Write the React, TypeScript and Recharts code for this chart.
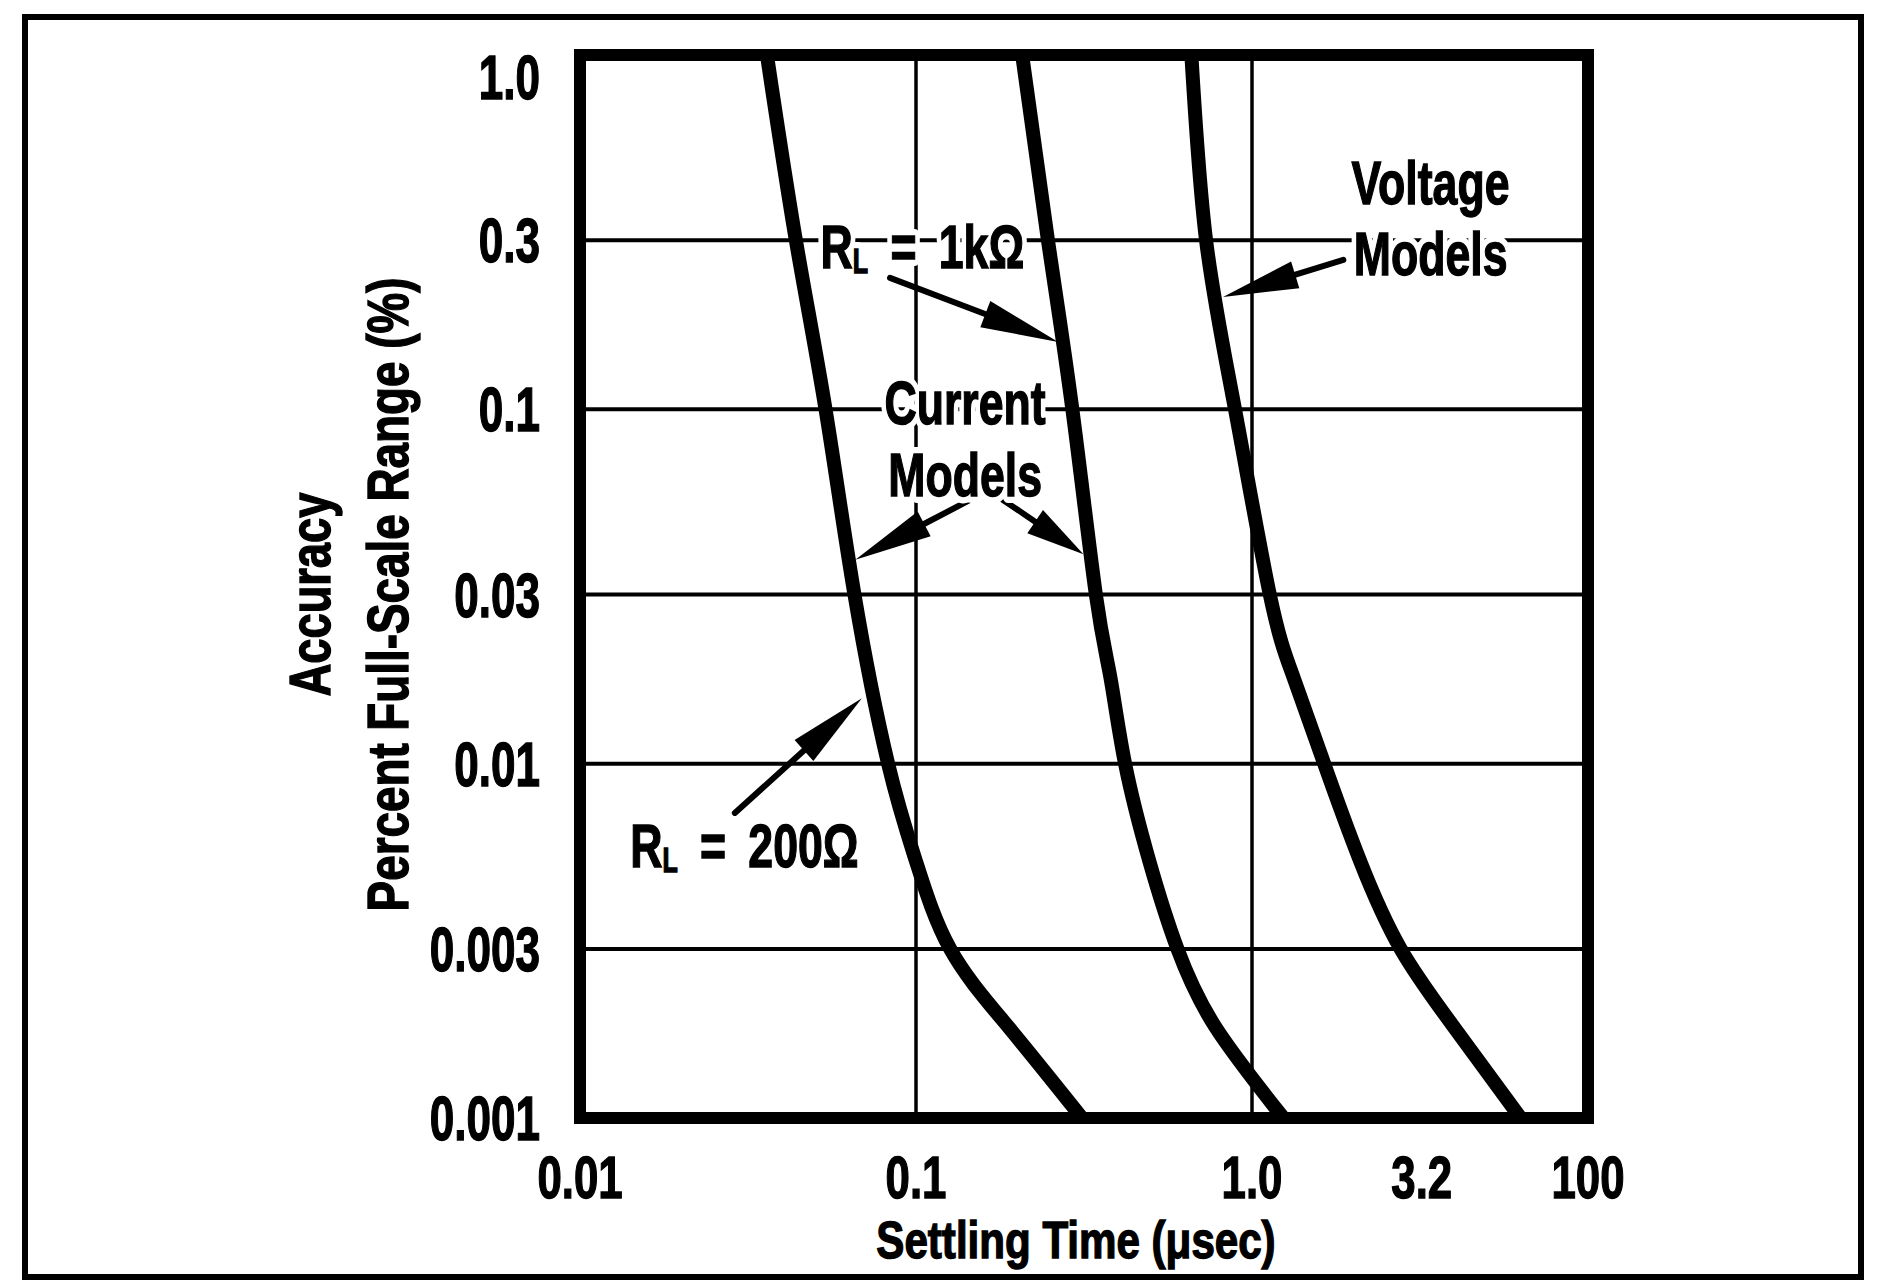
import React from "react";
import {
  LineChart,
  Line,
  XAxis,
  YAxis,
  CartesianGrid,
  ReferenceLine,
  ReferenceDot,
  ReferenceArea,
} from "recharts";

const FONT = "'Liberation Sans', Arial, sans-serif";

// settling time (usec), accuracy (% of FSR)
const time200 = [0.036, 0.0439, 0.0538, 0.0656, 0.0826, 0.1, 0.1264, 0.189, 0.312];
const acc200 = [1.0, 0.3, 0.1, 0.03, 0.01, 0.0053, 0.003, 0.0018, 0.001];

const time1k = [0.207, 0.247, 0.292, 0.343, 0.379, 0.419, 0.495, 0.6, 0.78, 1.24];
const acc1k = [1.0, 0.3, 0.1, 0.03, 0.0175, 0.01, 0.0053, 0.003, 0.0018, 0.001];

const timeVolt = [0.66, 0.73, 0.89, 1.13, 1.33, 1.64, 2.1, 2.77, 4.0, 6.3];
const accVolt = [1.0, 0.3, 0.1, 0.03, 0.0175, 0.01, 0.0053, 0.003, 0.0018, 0.001];

const yTicks = [0.001, 0.003, 0.01, 0.03, 0.1, 0.3, 1];
const yTickLabels = ["0.001", "0.003", "0.01", "0.03", "0.1", "0.3", "1.0"];
const xTicks = [0.01, 0.1, 1, 3.2, 10];
const xTickLabels = ["0.01", "0.1", "1.0", "3.2", "100"];
const xGrid = [0.1, 1];

// annotations (data coords)
const noteText = ["R_L = 1kΩ", "Current", "Models", "Voltage", "Models", "R_L = 200Ω"];
const noteX = [0.052, 0.14, 0.14, 3.4, 3.4, 0.0141];
const noteY = [0.25, 0.091, 0.057, 0.38, 0.24, 0.0051];
const noteAnchor = ["start", "middle", "middle", "middle", "middle", "start"];

const arrowFromX = [0.0837, 0.1448, 0.1815, 1.87, 0.0289];
const arrowFromY = [0.235, 0.0555, 0.0555, 0.264, 0.00726];
const arrowToX = [0.265, 0.066, 0.315, 0.82, 0.069];
const arrowToY = [0.155, 0.0376, 0.039, 0.2075, 0.0153];

const toRows = (ts: number[], accs: number[]) => ts.map((t, i) => ({ t, acc: accs[i] }));
const curve200 = toRows(time200, acc200);
const curve1k = toRows(time1k, acc1k);
const curveVolt = toRows(timeVolt, accVolt);

function Txt(props: any) {
  const { x, y, size = 62, sx = 0.72, anchor = "start", rotate = 0, halo = 0, children } = props;
  const tr = `translate(${x},${y}) rotate(${rotate}) scale(${sx},1)`;
  const common = {
    x: 0,
    y: 0,
    textAnchor: anchor,
    fontSize: size,
    fontFamily: FONT,
    fontWeight: 700,
  };
  return (
    <g transform={tr}>
      {halo > 0 && (
        <text {...common} fill="#fff" stroke="#fff" strokeWidth={halo} strokeLinejoin="round">
          {children}
        </text>
      )}
      <text {...common} fill="#000" stroke="#000" strokeWidth={1.4}>
        {children}
      </text>
    </g>
  );
}

function noteContent(text: string, size: number) {
  if (text.startsWith("R_L")) {
    const rest = text.slice(3).replace(/ /g, "\u2002");
    return [
      <tspan key="r">R</tspan>,
      <tspan key="l" fontSize={size * 0.56} dy={5}>
        L
      </tspan>,
      <tspan key="rest" dy={-5}>
        {rest}
      </tspan>,
    ];
  }
  return text;
}

function Arrow(props: any) {
  const { x1, y1, x2, y2 } = props;
  const dx = x2 - x1;
  const dy = y2 - y1;
  const len = Math.sqrt(dx * dx + dy * dy) || 1;
  const ux = dx / len;
  const uy = dy / len;
  const L = Math.min(78, len * 0.6);
  const W = 14;
  const bx = x2 - ux * L;
  const by = y2 - uy * L;
  const nx = -uy;
  const ny = ux;
  const pts = `${x2},${y2} ${bx + nx * W},${by + ny * W} ${bx - nx * W},${by - ny * W}`;
  return (
    <g>
      <line x1={x1} y1={y1} x2={bx + ux * 4} y2={by + uy * 4} stroke="#000" strokeWidth={6} strokeLinecap="round" />
      <polygon points={pts} fill="#000" />
    </g>
  );
}

function YTick(props: any) {
  const { x, y, payload } = props;
  const i = yTicks.indexOf(payload.value);
  const label = i >= 0 ? yTickLabels[i] : String(payload.value);
  const dy = payload.value === 1 ? 44 : 22;
  return (
    <Txt x={x} y={y + dy} size={63} sx={0.7} anchor="end">
      {label}
    </Txt>
  );
}

function XTick(props: any) {
  const { x, y, payload } = props;
  const i = xTicks.indexOf(payload.value);
  const label = i >= 0 ? xTickLabels[i] : String(payload.value);
  return (
    <Txt x={x} y={y} size={60} sx={0.73} anchor="middle">
      {label}
    </Txt>
  );
}

function XTitle(props: any) {
  const vb = props.viewBox || { x: 580, y: 1118, width: 1008, height: 60 };
  return (
    <Txt x={vb.x + vb.width / 2 - 8} y={vb.y + 140} size={52} sx={0.81} anchor="middle">
      Settling Time (μsec)
    </Txt>
  );
}

function YTitle(props: any) {
  const vb = props.viewBox || { x: 500, y: 55, width: 80, height: 1063 };
  const cy = vb.y + vb.height / 2 + 8;
  return (
    <g>
      <Txt x={vb.x - 170} y={cy} size={58} sx={0.78} anchor="middle" rotate={-90}>
        Accuracy
      </Txt>
      <Txt x={vb.x - 92} y={cy} size={58} sx={0.79} anchor="middle" rotate={-90}>
        Percent Full-Scale Range (%)
      </Txt>
    </g>
  );
}

export default function App() {
  return (
    <div style={{ position: "absolute", left: 0, top: 0, width: 1881, height: 1282, background: "#fff" }}>
      <div
        style={{
          position: "absolute",
          left: 22,
          top: 14,
          width: 1842,
          height: 1266,
          border: "6px solid #000",
          boxSizing: "border-box",
        }}
      />
      <div style={{ position: "absolute", left: 0, top: 0 }}>
        <LineChart width={1881} height={1282} margin={{ top: 55, right: 293, bottom: 104, left: 500 }}>
          <CartesianGrid vertical={false} stroke="#000" strokeWidth={4} />
          <XAxis
            dataKey="t"
            type="number"
            scale="log"
            domain={[0.01, 10]}
            allowDataOverflow
            ticks={xTicks}
            interval={0}
            height={60}
            axisLine={false}
            tickLine={false}
            tickSize={0}
            tickMargin={80}
            tick={<XTick />}
            label={<XTitle />}
          />
          <YAxis
            dataKey="acc"
            type="number"
            scale="log"
            domain={[0.001, 1]}
            allowDataOverflow
            ticks={yTicks}
            interval={0}
            width={80}
            axisLine={false}
            tickLine={false}
            tickSize={0}
            tickMargin={40}
            tick={<YTick />}
            label={<YTitle />}
          />
          {xGrid.map((g) => (
            <ReferenceLine key={"vx" + g} x={g} stroke="#000" strokeWidth={3.5} ifOverflow="visible" />
          ))}
          {noteText.map((t, i) => (
            <ReferenceDot
              key={"n" + i}
              x={noteX[i]}
              y={noteY[i]}
              r={0}
              ifOverflow="visible"
              shape={(p: any) => (
                <Txt x={p.cx} y={p.cy} size={62} sx={0.72} anchor={noteAnchor[i]} halo={14}>
                  {noteContent(t, 62)}
                </Txt>
              )}
            />
          ))}
          {arrowFromX.map((fx, i) => (
            <ReferenceLine
              key={"a" + i}
              segment={[
                { x: fx, y: arrowFromY[i] },
                { x: arrowToX[i], y: arrowToY[i] },
              ]}
              ifOverflow="visible"
              shape={(p: any) => <Arrow {...p} />}
            />
          ))}
          <Line data={curve200} dataKey="acc" type="natural" stroke="#000" strokeWidth={14} dot={false} isAnimationActive={false} />
          <Line data={curve1k} dataKey="acc" type="natural" stroke="#000" strokeWidth={14} dot={false} isAnimationActive={false} />
          <Line data={curveVolt} dataKey="acc" type="natural" stroke="#000" strokeWidth={14} dot={false} isAnimationActive={false} />
          <ReferenceArea
            x1={0.01}
            x2={10}
            y1={0.001}
            y2={1}
            fill="none"
            stroke="#000"
            strokeWidth={12}
            strokeOpacity={1}
            ifOverflow="visible"
          />
        </LineChart>
      </div>
    </div>
  );
}
